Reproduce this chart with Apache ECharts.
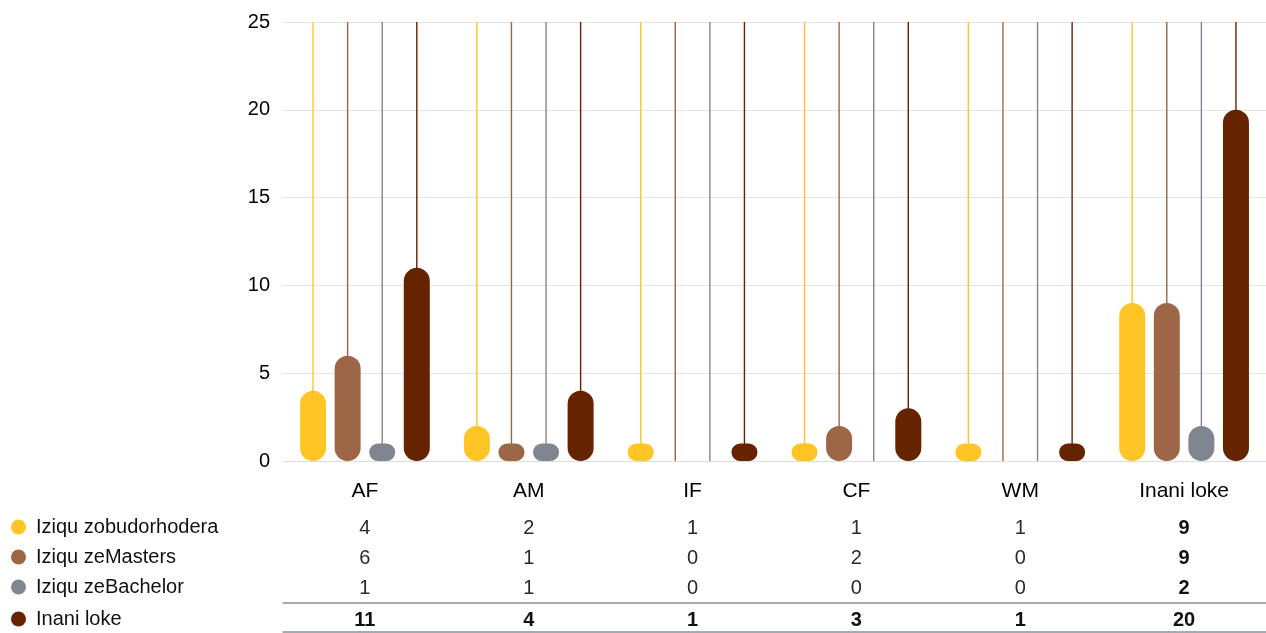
<!DOCTYPE html>
<html>
<head>
<meta charset="utf-8">
<script src="https://cdn.jsdelivr.net/npm/echarts@6/dist/echarts.min.js"></script>
<style>
  html, body { margin: 0; padding: 0; background: #fff; }
  #chart { width: 1266px; height: 633px; }
</style>
</head>
<body>
<div id="chart"></div>
<script>
// Categories and per-series counts
const categories = ['AF', 'AM', 'IF', 'CF', 'WM', 'Inani loke'];
const seriesNames = ['Iziqu zobudorhodera', 'Iziqu zeMasters', 'Iziqu zeBachelor', 'Inani loke'];
const doctorate = [4, 2, 1, 1, 1, 9];
const masters   = [6, 1, 0, 2, 0, 9];
const bachelor  = [1, 1, 0, 0, 0, 2];
const total     = [11, 4, 1, 3, 1, 20];
const yTicks = { min: 0, max: 25, interval: 5 };

const seriesValues = [doctorate, masters, bachelor, total];
const colors = ['#FFC425', '#9D6646', '#80868F', '#652300'];

const FONT = '"Liberation Sans", Arial, Helvetica, sans-serif';
const BAR_W = 26;
const GAP_RATIO = 0.33;
const AXIS_Y = 461;
const ROW_FS = 20;

const chart = echarts.init(document.getElementById('chart'));

// Thin stems running the full height of the plot behind each bar
function stemSeries(i) {
  return {
    type: 'custom',
    xAxisIndex: 0,
    yAxisIndex: 0,
    z: 1,
    silent: true,
    data: categories.map((c, k) => [k, yTicks.max]),
    encode: { x: 0, y: 1 },
    renderItem: function (params, api) {
      const k = api.value(0);
      const top = api.coord([k, yTicks.max]);
      const bottom = api.coord([k, 0]);
      const step = BAR_W * (1 + GAP_RATIO);
      const x = top[0] + (i - 1.5) * step;
      return {
        type: 'line',
        shape: { x1: x, y1: top[1], x2: x, y2: bottom[1] },
        style: { stroke: colors[i], lineWidth: 1.4 }
      };
    }
  };
}

function barSeries(i) {
  return {
    name: seriesNames[i],
    type: 'bar',
    xAxisIndex: 0,
    yAxisIndex: 0,
    z: 2,
    barWidth: BAR_W,
    barGap: (GAP_RATIO * 100) + '%',
    data: seriesValues[i],
    itemStyle: { color: colors[i], borderRadius: BAR_W / 2 },
    emphasis: { disabled: true }
  };
}

// Table rows under the plot, one hidden category axis per row
function rowAxis(values, offset, margin, allBold, lineColor) {
  return {
    type: 'category',
    data: categories,
    position: 'bottom',
    offset: offset,
    gridIndex: 0,
    axisLine: lineColor ? { show: true, lineStyle: { color: lineColor, width: 1.5 } } : { show: false },
    axisTick: { show: false },
    splitLine: { show: false },
    axisLabel: values ? {
      show: true,
      margin: margin,
      interval: 0,
      fontFamily: FONT,
      fontSize: ROW_FS,
      color: '#2a2a2a',
      formatter: function (v, idx) {
        const s = String(values[idx]);
        return (allBold || idx === categories.length - 1) ? '{b|' + s + '}' : s;
      },
      rich: { b: { fontFamily: FONT, fontSize: ROW_FS, fontWeight: 'bold', color: '#111' } }
    } : { show: false }
  };
}

const legendTops = [517, 547, 577, 609];
const legends = seriesNames.map((n, i) => ({
  data: [n],
  left: 11,
  top: legendTops[i],
  padding: 0,
  orient: 'vertical',
  icon: 'circle',
  itemWidth: 15,
  itemHeight: 15,
  selectedMode: false,
  textStyle: { fontFamily: FONT, fontSize: ROW_FS, color: '#111', padding: [0, 0, 0, 5] }
}));

chart.setOption({
  animation: false,
  backgroundColor: '#fff',
  grid: { left: 283, right: 0, top: 22, bottom: 633 - AXIS_Y, containLabel: false },
  legend: legends,
  xAxis: [
    {
      type: 'category',
      data: categories,
      position: 'bottom',
      axisLine: { show: true, lineStyle: { color: '#dcdcdc', width: 1 } },
      axisTick: { show: false },
      axisLabel: { margin: 20, fontFamily: FONT, fontSize: 21, color: '#000', interval: 0 }
    },
    rowAxis(doctorate, 57.5, 0, false),
    rowAxis(masters, 87.5, 0, false),
    rowAxis(bachelor, 117.5, 0, false),
    rowAxis(total, 142, 7.5, true, '#8a8f98'),
    rowAxis(null, 171, 0, false, '#8a8f98')
  ],
  yAxis: {
    type: 'value',
    min: yTicks.min,
    max: yTicks.max,
    interval: yTicks.interval,
    axisLine: { show: false },
    axisTick: { show: false },
    axisLabel: { margin: 13, fontFamily: FONT, fontSize: 20, color: '#000' },
    splitLine: { lineStyle: { color: '#e4e4e4', width: 1 } }
  },
  series: [0, 1, 2, 3].map(stemSeries).concat([0, 1, 2, 3].map(barSeries))
});
</script>
</body>
</html>
